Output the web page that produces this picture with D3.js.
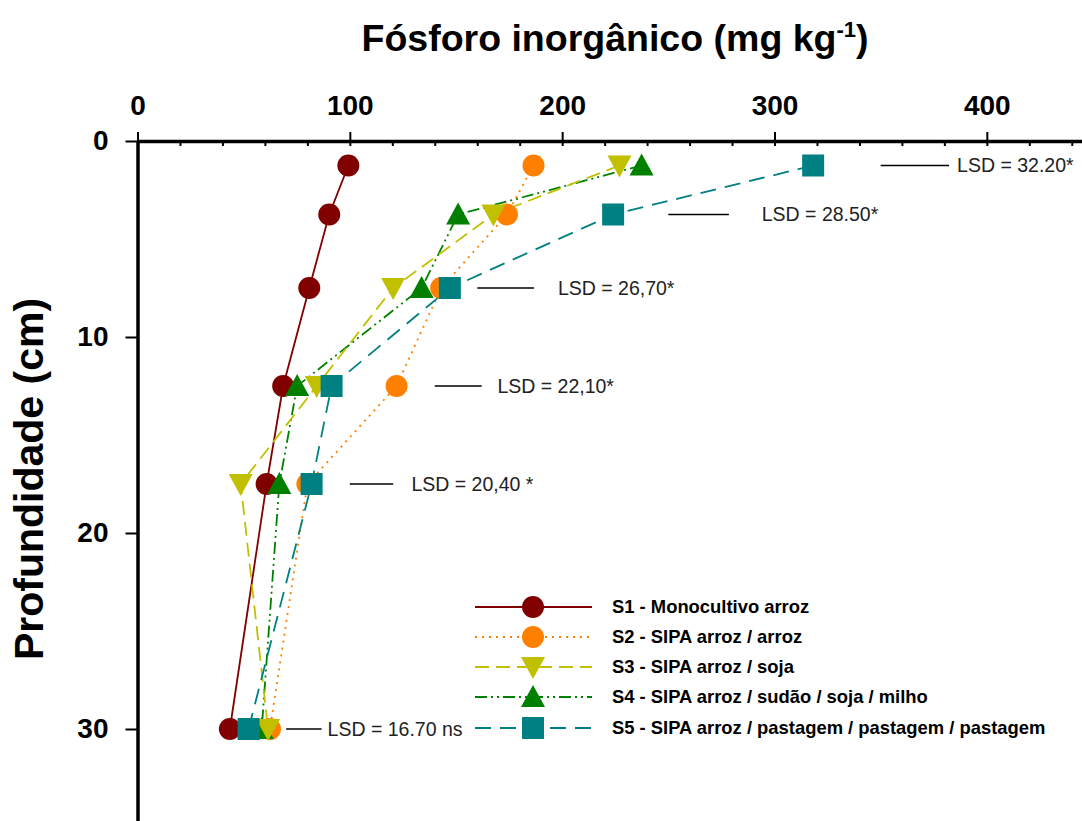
<html>
  <head>
    <script src="https://d3js.org/d3.v7.min.js"></script>
    <style>
      body { margin: 0; background: #fff; }
      text { font-family: "Liberation Sans", Arial, sans-serif; }
    </style>
  </head>
  <body>
    <div id="vis"></div>
  </body>
  <script>
    // depths (cm) of each sampled layer
    var depths = [1.25, 3.75, 7.5, 12.5, 17.5, 30]

    // inorganic P (mg/kg) per system
    var s1 = [99.3, 90.3, 80.9, 68.6, 60.8, 43.5]
    var s2 = [186.5, 174, 143, 122, 80, 62.4]
    var s3 = [227, 167.6, 120.4, 84.4, 48.6, 61.5]
    var s4 = [237.4, 151, 133.8, 75.2, 66.8, 58.5]
    var s5 = [318.2, 224, 147.1, 91.4, 82, 52.3]

    var seriesNames = [
      "S1 - Monocultivo arroz",
      "S2 - SIPA arroz / arroz",
      "S3 - SIPA arroz / soja",
      "S4 - SIPA arroz / sudão / soja / milho",
      "S5 - SIPA arroz / pastagem / pastagem / pastagem"
    ]

    // LSD bars: start (mg/kg), length = LSD value, label anchor (mg/kg)
    var lsdStart = [350, 250, 160, 140, 100, 70]
    var lsdValue = [32.2, 28.5, 26.7, 22.1, 20.4, 16.7]
    var lsdTextAt = [386, 294, 198, 169.5, 129, 89.5]
    var lsdLabels = ["LSD = 32.20*", "LSD = 28.50*", "LSD = 26,70*", "LSD = 22,10*", "LSD = 20,40 *", "LSD = 16.70 ns"]

    var xTicks = [0, 100, 200, 300, 400]
    var yTicks = [0, 10, 20, 30]

    var width = 1082, height = 821

    var svg = d3.select("#vis")
      .append("svg")
      .attr("width", width)
      .attr("height", height)

    var x = d3.scaleLinear().domain([0, 450]).range([137.5, 1093])
    var y = d3.scaleLinear().domain([0, 35]).range([141, 827])

    // styles per series
    var styles = [
      {color: "#800000", dash: null, shape: "circle"},
      {color: "#ff8000", dash: "2,5", shape: "circle"},
      {color: "#c0c000", dash: "14,7", shape: "down"},
      {color: "#008000", dash: "12,4,2,4,2,4", shape: "up"},
      {color: "#008080", dash: "16,9", shape: "square"}
    ]
    var allSeries = [s1, s2, s3, s4, s5]

    // title
    var title = svg.append("text")
      .attr("x", 615)
      .attr("y", 51)
      .attr("text-anchor", "middle")
      .attr("font-size", "37.5px")
      .attr("font-weight", "bold")
    title.append("tspan").text("Fósforo inorgânico (mg kg")
    title.append("tspan").text("-1").attr("font-size", "22px").attr("dy", "-14")
    title.append("tspan").text(")").attr("dy", "14")

    // y label
    svg.append("text")
      .attr("transform", "translate(43,479) rotate(-90)")
      .attr("text-anchor", "middle")
      .attr("font-size", "41px")
      .attr("font-weight", "bold")
      .text("Profundidade (cm)")

    // minor ticks on top axis (inward)
    svg.append("g")
      .attr("transform", "translate(0," + y(0) + ")")
      .call(d3.axisTop(x).tickValues(d3.range(0, 460, 20)).tickFormat("").tickSize(-5).tickSizeOuter(0))
      .call(g => g.select(".domain").remove())
      .selectAll("line").attr("stroke-width", 2)

    // top axis
    var xAxis = svg.append("g")
      .attr("transform", "translate(0," + y(0) + ")")
      .call(d3.axisTop(x).tickValues(xTicks).tickSize(9).tickSizeOuter(0).tickPadding(17))
    xAxis.select(".domain").attr("stroke-width", 3.5)
    xAxis.selectAll("line").attr("stroke-width", 2)
    xAxis.selectAll("text")
      .attr("font-size", "28px")
      .attr("font-weight", "bold")
      .attr("font-family", '"Liberation Sans", Arial, sans-serif')

    // left axis
    var yAxis = svg.append("g")
      .attr("transform", "translate(" + x(0) + ",0)")
      .call(d3.axisLeft(y).tickValues(yTicks).tickSize(12).tickSizeOuter(0).tickPadding(17))
    yAxis.select(".domain").attr("stroke-width", 3.5)
    yAxis.selectAll("line").attr("stroke-width", 2)
    yAxis.selectAll("text")
      .attr("font-size", "28px")
      .attr("font-weight", "bold")
      .attr("font-family", '"Liberation Sans", Arial, sans-serif')

    // LSD bars
    lsdValue.forEach(function(v, i) {
      svg.append("line")
        .attr("x1", x(lsdStart[i]))
        .attr("x2", x(lsdStart[i] + v))
        .attr("y1", y(depths[i]))
        .attr("y2", y(depths[i]))
        .attr("stroke", "black")
        .attr("stroke-width", 1.5)
      svg.append("text")
        .attr("x", x(lsdTextAt[i]))
        .attr("y", y(depths[i]))
        .attr("dy", "0.35em")
        .attr("font-size", "19.5px")
        .attr("fill", "#222")
        .text(lsdLabels[i])
    })

    function marker(sel, shape, color) {
      if (shape === "circle") {
        sel.append("circle").attr("r", 11).attr("fill", color)
      } else if (shape === "square") {
        sel.append("rect").attr("x", -11).attr("y", -11).attr("width", 22).attr("height", 22).attr("fill", color)
      } else if (shape === "up") {
        sel.append("path").attr("d", "M-12,10L12,10L0,-12Z").attr("fill", color)
      } else {
        sel.append("path").attr("d", "M-12,-10L12,-10L0,12Z").attr("fill", color)
      }
    }

    var line = d3.line()
      .x(function(d) { return x(d[0]) })
      .y(function(d) { return y(d[1]) })

    // lines first, then markers (S3 drawn over S4 at the bottom)
    var order = [0, 1, 3, 2, 4]
    order.forEach(function(k) {
      var pts = allSeries[k].map(function(v, i) { return [v, depths[i]] })
      svg.append("path")
        .datum(pts)
        .attr("d", line)
        .attr("fill", "none")
        .attr("stroke", styles[k].color)
        .attr("stroke-width", 1.8)
        .attr("stroke-dasharray", styles[k].dash)
    })
    order.forEach(function(k) {
      allSeries[k].forEach(function(v, i) {
        var g = svg.append("g").attr("transform", "translate(" + x(v) + "," + y(depths[i]) + ")")
        marker(g, styles[k].shape, styles[k].color)
      })
    })

    // legend
    var legY = [607, 637, 667, 697, 728]
    seriesNames.forEach(function(name, k) {
      var g = svg.append("g").attr("transform", "translate(0," + legY[k] + ")")
      g.append("line")
        .attr("x1", 475).attr("x2", 592)
        .attr("stroke", styles[k].color)
        .attr("stroke-width", 1.8)
        .attr("stroke-dasharray", styles[k].dash)
      var m = g.append("g").attr("transform", "translate(533,0)")
      marker(m, styles[k].shape, styles[k].color)
      g.append("text")
        .attr("x", 612)
        .attr("dy", "0.35em")
        .attr("font-size", "18.4px")
        .attr("font-weight", "bold")
        .text(name)
    })
  </script>
</html>
